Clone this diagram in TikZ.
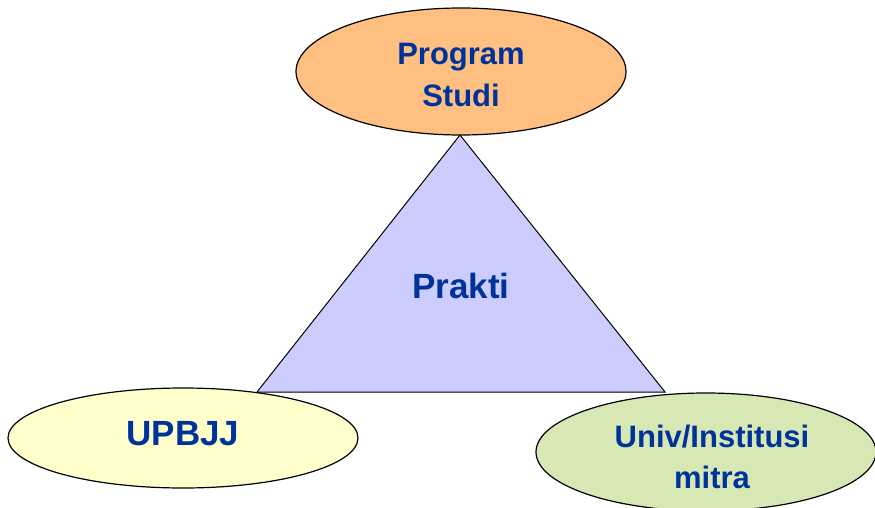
\documentclass[tikz,border=0pt]{standalone}
\usepackage{fontspec}
\setmainfont{Liberation Sans}
\usetikzlibrary{shapes.geometric}
\definecolor{txtblue}{HTML}{003399}
\definecolor{orangefill}{HTML}{FFBF80}
\definecolor{yellowfill}{HTML}{FFFFCC}
\definecolor{greenfill}{HTML}{D7E8B5}
\definecolor{violetfill}{HTML}{CCCCFF}
\tikzset{
  blob/.style={ellipse, draw=black, line width=1.2pt, inner sep=0pt},
  lbl/.style={anchor=base, text=txtblue, font=\bfseries\fontsize{31}{42}\selectfont, inner sep=0pt},
  biglbl/.style={anchor=base, text=txtblue, font=\bfseries\fontsize{35}{42}\selectfont, inner sep=0pt}
}
\begin{document}
\begin{tikzpicture}[x=1pt,y=-1pt]
\useasboundingbox (0,0) rectangle (875,508);
% central triangle
\coordinate (apex) at (460,135);
\coordinate (bl) at (257,392);
\coordinate (br) at (665,392);
\filldraw[fill=violetfill, draw=black, line width=1pt, line join=miter] (apex) -- (br) -- (bl) -- cycle;
\node[biglbl] (prakti) at (461,298) {Prakti};
% three partners
\node[blob, fill=orangefill, minimum width=330pt, minimum height=127pt] (prodi) at (461,71.5) {};
\node[blob, fill=yellowfill, minimum width=350pt, minimum height=100pt] (upbjj) at (183,438) {};
\node[blob, fill=greenfill, minimum width=340pt, minimum height=118pt] (mitra) at (706,452) {};
\node[lbl] (prodiA) at (461,65) {Program};
\node[lbl] (prodiB) at (461,107) {Studi};
\node[biglbl] (upbjjL) at (183,445) {UPBJJ};
\node[lbl] (mitraA) at (712,447) {Univ/Institusi};
\node[lbl] (mitraB) at (712,488) {mitra};
\end{tikzpicture}
\end{document}
